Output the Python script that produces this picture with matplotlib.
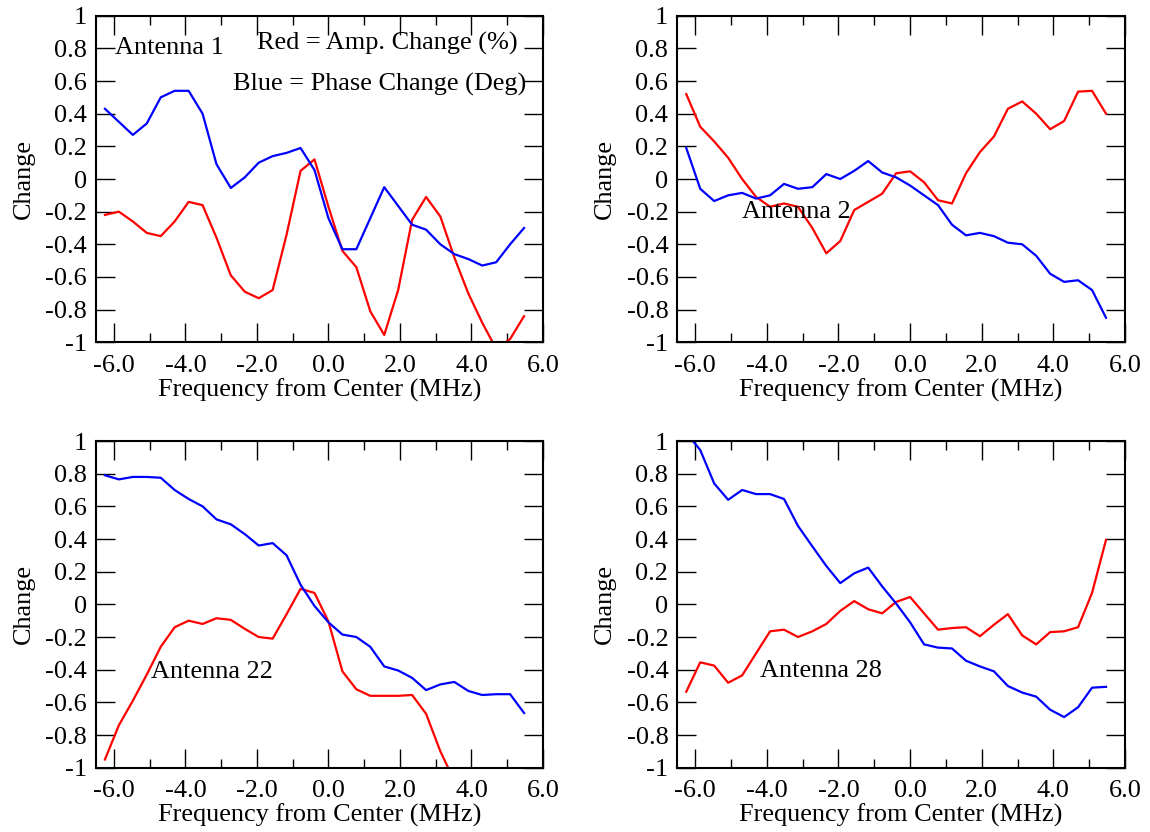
import matplotlib
matplotlib.use('Agg')
import matplotlib.pyplot as plt
from matplotlib.ticker import MultipleLocator, FuncFormatter

plt.rcParams['font.family'] = ['Liberation Serif', 'DejaVu Serif']
plt.rcParams['font.size'] = 18.9

# frequency channels (MHz from center)
freq = [-6.25, -5.86, -5.47, -5.08, -4.69, -4.30, -3.91, -3.52, -3.13, -2.73,
        -2.34, -1.95, -1.56, -1.17, -0.78, -0.39, 0.00, 0.39, 0.78, 1.17,
        1.56, 1.95, 2.34, 2.73, 3.13, 3.52, 3.91, 4.30, 4.69, 5.08, 5.47]

# Antenna 1
amp_ant1 = [-0.22, -0.20, -0.26, -0.33, -0.35, -0.26, -0.14, -0.16, -0.36, -0.59,
            -0.69, -0.73, -0.68, -0.34, 0.05, 0.12, -0.17, -0.44, -0.54, -0.81,
            -0.955, -0.68, -0.25, -0.11, -0.23, -0.48, -0.70, -0.88, -1.04, -0.98,
            -0.84]
phase_ant1 = [0.43, 0.35, 0.27, 0.34, 0.50, 0.54, 0.54, 0.40, 0.09, -0.055,
              0.01, 0.10, 0.14, 0.16, 0.19, 0.055, -0.24, -0.43, -0.43, -0.24,
              -0.05, -0.165, -0.28, -0.31, -0.40, -0.46, -0.49, -0.53, -0.51, -0.40,
              -0.30]

# Antenna 2
amp_ant2 = [0.52, 0.32, 0.23, 0.13, 0.00, -0.11, -0.17, -0.15, -0.17, -0.30,
            -0.455, -0.38, -0.19, -0.14, -0.09, 0.035, 0.047, -0.02, -0.13, -0.15,
            0.035, 0.165, 0.26, 0.43, 0.475, 0.40, 0.305, 0.355, 0.535, 0.54,
            0.40]
phase_ant2 = [0.19, -0.06, -0.135, -0.10, -0.085, -0.12, -0.10, -0.03, -0.06, -0.05,
              0.03, 0.00, 0.05, 0.11, 0.04, 0.01, -0.04, -0.10, -0.16, -0.28,
              -0.345, -0.33, -0.35, -0.39, -0.40, -0.47, -0.58, -0.63, -0.62, -0.68,
              -0.85]

# Antenna 22 (amplitude leaves the plot after 3.5 MHz)
amp_ant22 = [-0.95, -0.74, -0.59, -0.43, -0.26, -0.14, -0.10, -0.12, -0.085, -0.095,
             -0.15, -0.20, -0.21, -0.06, 0.095, 0.07, -0.105, -0.41, -0.52, -0.56,
             -0.56, -0.56, -0.555, -0.67, -0.90, -1.08]
phase_ant22 = [0.79, 0.765, 0.78, 0.78, 0.775, 0.70, 0.645, 0.60, 0.52, 0.49,
               0.43, 0.36, 0.375, 0.30, 0.12, -0.01, -0.11, -0.185, -0.20, -0.26,
               -0.38, -0.405, -0.45, -0.525, -0.49, -0.475, -0.53, -0.555, -0.55, -0.55,
               -0.665]

# Antenna 28
amp_ant28 = [-0.535, -0.355, -0.375, -0.48, -0.435, -0.30, -0.165, -0.155, -0.20, -0.165,
             -0.12, -0.04, 0.02, -0.03, -0.055, 0.015, 0.045, -0.055, -0.155, -0.145,
             -0.14, -0.195, -0.125, -0.06, -0.19, -0.245, -0.17, -0.165, -0.14, 0.07,
             0.395]
phase_ant28 = [1.05, 0.945, 0.74, 0.64, 0.70, 0.675, 0.675, 0.645, 0.48, 0.355,
               0.235, 0.13, 0.19, 0.225, 0.11, 0.005, -0.11, -0.245, -0.265, -0.27,
               -0.345, -0.38, -0.41, -0.50, -0.54, -0.565, -0.645, -0.69, -0.63, -0.51,
               -0.505]


def setup_axes(ax):
    ax.set_xlim(-6.5, 6.0)
    ax.set_ylim(-1, 1)
    ax.xaxis.set_major_locator(MultipleLocator(2))
    ax.xaxis.set_minor_locator(MultipleLocator(1))
    ax.yaxis.set_major_locator(MultipleLocator(0.2))
    ax.xaxis.set_major_formatter(FuncFormatter(lambda v, p: '%.1f' % (v + 0.0)))
    ax.yaxis.set_major_formatter(FuncFormatter(lambda v, p: '%g' % (round(v, 1) + 0.0)))
    ax.tick_params(which='both', direction='in', top=True, right=True, width=1.0)
    ax.tick_params(which='major', length=13.5)
    ax.tick_params(which='minor', length=6.7)
    ax.tick_params(axis='x', which='both', pad=9)
    ax.tick_params(axis='y', which='both', pad=6.5)
    for s in ax.spines.values():
        s.set_linewidth(1.5)
    ax.set_xlabel('Frequency from Center (MHz)', labelpad=1)
    ax.set_ylabel('Change', labelpad=7.5)


def plot_panel(ax, amp, phase, label, lx, ly):
    ax.plot(freq[:len(amp)], amp, color='#ff0000', lw=1.6)
    ax.plot(freq[:len(phase)], phase, color='#0000ff', lw=1.6)
    ax.text(lx, ly, label, ha='left', va='baseline')
    setup_axes(ax)


fig = plt.figure(figsize=(11.5, 8.32), dpi=100)
W, H = 1150.0, 832.0
boxes = [(96, 15.7, 543, 342.3), (677.3, 15.7, 1125, 342.3),
         (96, 441, 543, 767.7), (677.3, 441, 1125, 767.7)]
axes = [fig.add_axes([l / W, 1 - b / H, (r - l) / W, (b - t) / H]) for (l, t, r, b) in boxes]

plot_panel(axes[0], amp_ant1, phase_ant1, 'Antenna 1', -5.98, 0.765)
axes[0].text(-2.0, 0.79, 'Red = Amp. Change (%)', ha='left', va='baseline')
axes[0].text(-2.67, 0.539, 'Blue = Phase Change (Deg)', ha='left', va='baseline')
plot_panel(axes[1], amp_ant2, phase_ant2, 'Antenna 2', -4.70, -0.241)
plot_panel(axes[2], amp_ant22, phase_ant22, 'Antenna 22', -4.95, -0.453)
plot_panel(axes[3], amp_ant28, phase_ant28, 'Antenna 28', -4.19, -0.447)

fig.savefig('out.png', dpi=100)
